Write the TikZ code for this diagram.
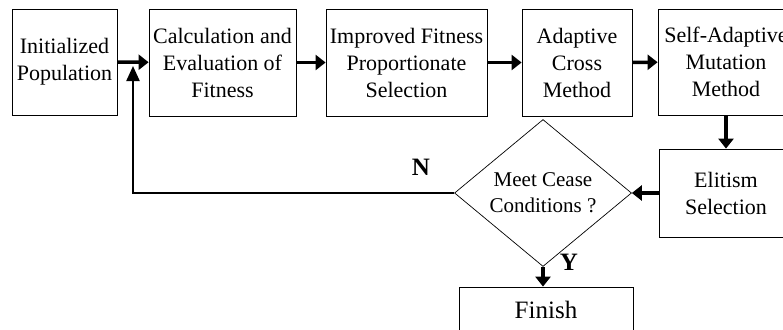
\documentclass[tikz,border=0pt]{standalone}
\usepackage{fontspec}
\setmainfont{Liberation Serif}
\usetikzlibrary{shapes.geometric, arrows.meta, positioning}

\begin{document}
\begin{tikzpicture}[x=1pt, y=-1pt,
    box/.style={draw, line width=0.8pt, align=center, inner sep=0pt, font=\fontsize{22}{27}\selectfont},
    flow/.style={-{Triangle[length=10pt,width=15pt]}, line width=3.5pt},
    back/.style={-{Triangle[length=15pt,width=13pt]}, line width=2.2pt},
    mark label/.style={font=\bfseries\fontsize{25}{30}\selectfont}]
    \useasboundingbox (0,0) rectangle (783,329);

    % Top row
    \node[box, minimum width=105pt, minimum height=106pt] (init) at (64.5,62) {Initialized\\Population};
    \node[box, minimum width=147pt, minimum height=107pt] (calc) at (222.5,62.5) {Calculation and\\Evaluation of\\Fitness};
    \node[box, minimum width=161pt, minimum height=107pt] (select) at (406.5,62.5) {Improved Fitness\\Proportionate\\Selection};
    \node[box, minimum width=110pt, minimum height=107pt] (cross) at (577,62.5) {Adaptive\\Cross\\Method};
    \node[box, minimum width=136pt, minimum height=106pt] (mutate) at (726,62) {Self-Adaptive\\Mutation\\Method};

    % Lower part
    \node[box, minimum width=134pt, minimum height=88pt] (elite) at (726,193) {Elitism\\Selection};
    \node[draw, diamond, line width=0.7pt, inner sep=0pt, align=center, minimum width=177pt, minimum height=128pt,
          font=\fontsize{21}{26}\selectfont] (check) at (543,193) {Meet Cease\\Conditions ?};
    \node[box, minimum width=174pt, minimum height=46pt, font=\fontsize{25}{30}\selectfont] (finish) at (546,310) {Finish};
    \coordinate (loop) at (133,66);

    % Connections
    \draw[flow] (init) -- (calc);
    \draw[flow] (calc) -- (select);
    \draw[flow] (select) -- (cross);
    \draw[flow] (cross) -- (mutate);
    \draw[flow] (mutate) -- (elite);
    \draw[flow] (elite) -- (check);
    \draw[flow] (check.south) -- (check.south |- finish.north);
    \draw[back] (check.west) -| (loop);

    \node[mark label] (no) at (421,167) {N};
    \node[mark label] (yes) at (569,262) {Y};
\end{tikzpicture}
\end{document}
